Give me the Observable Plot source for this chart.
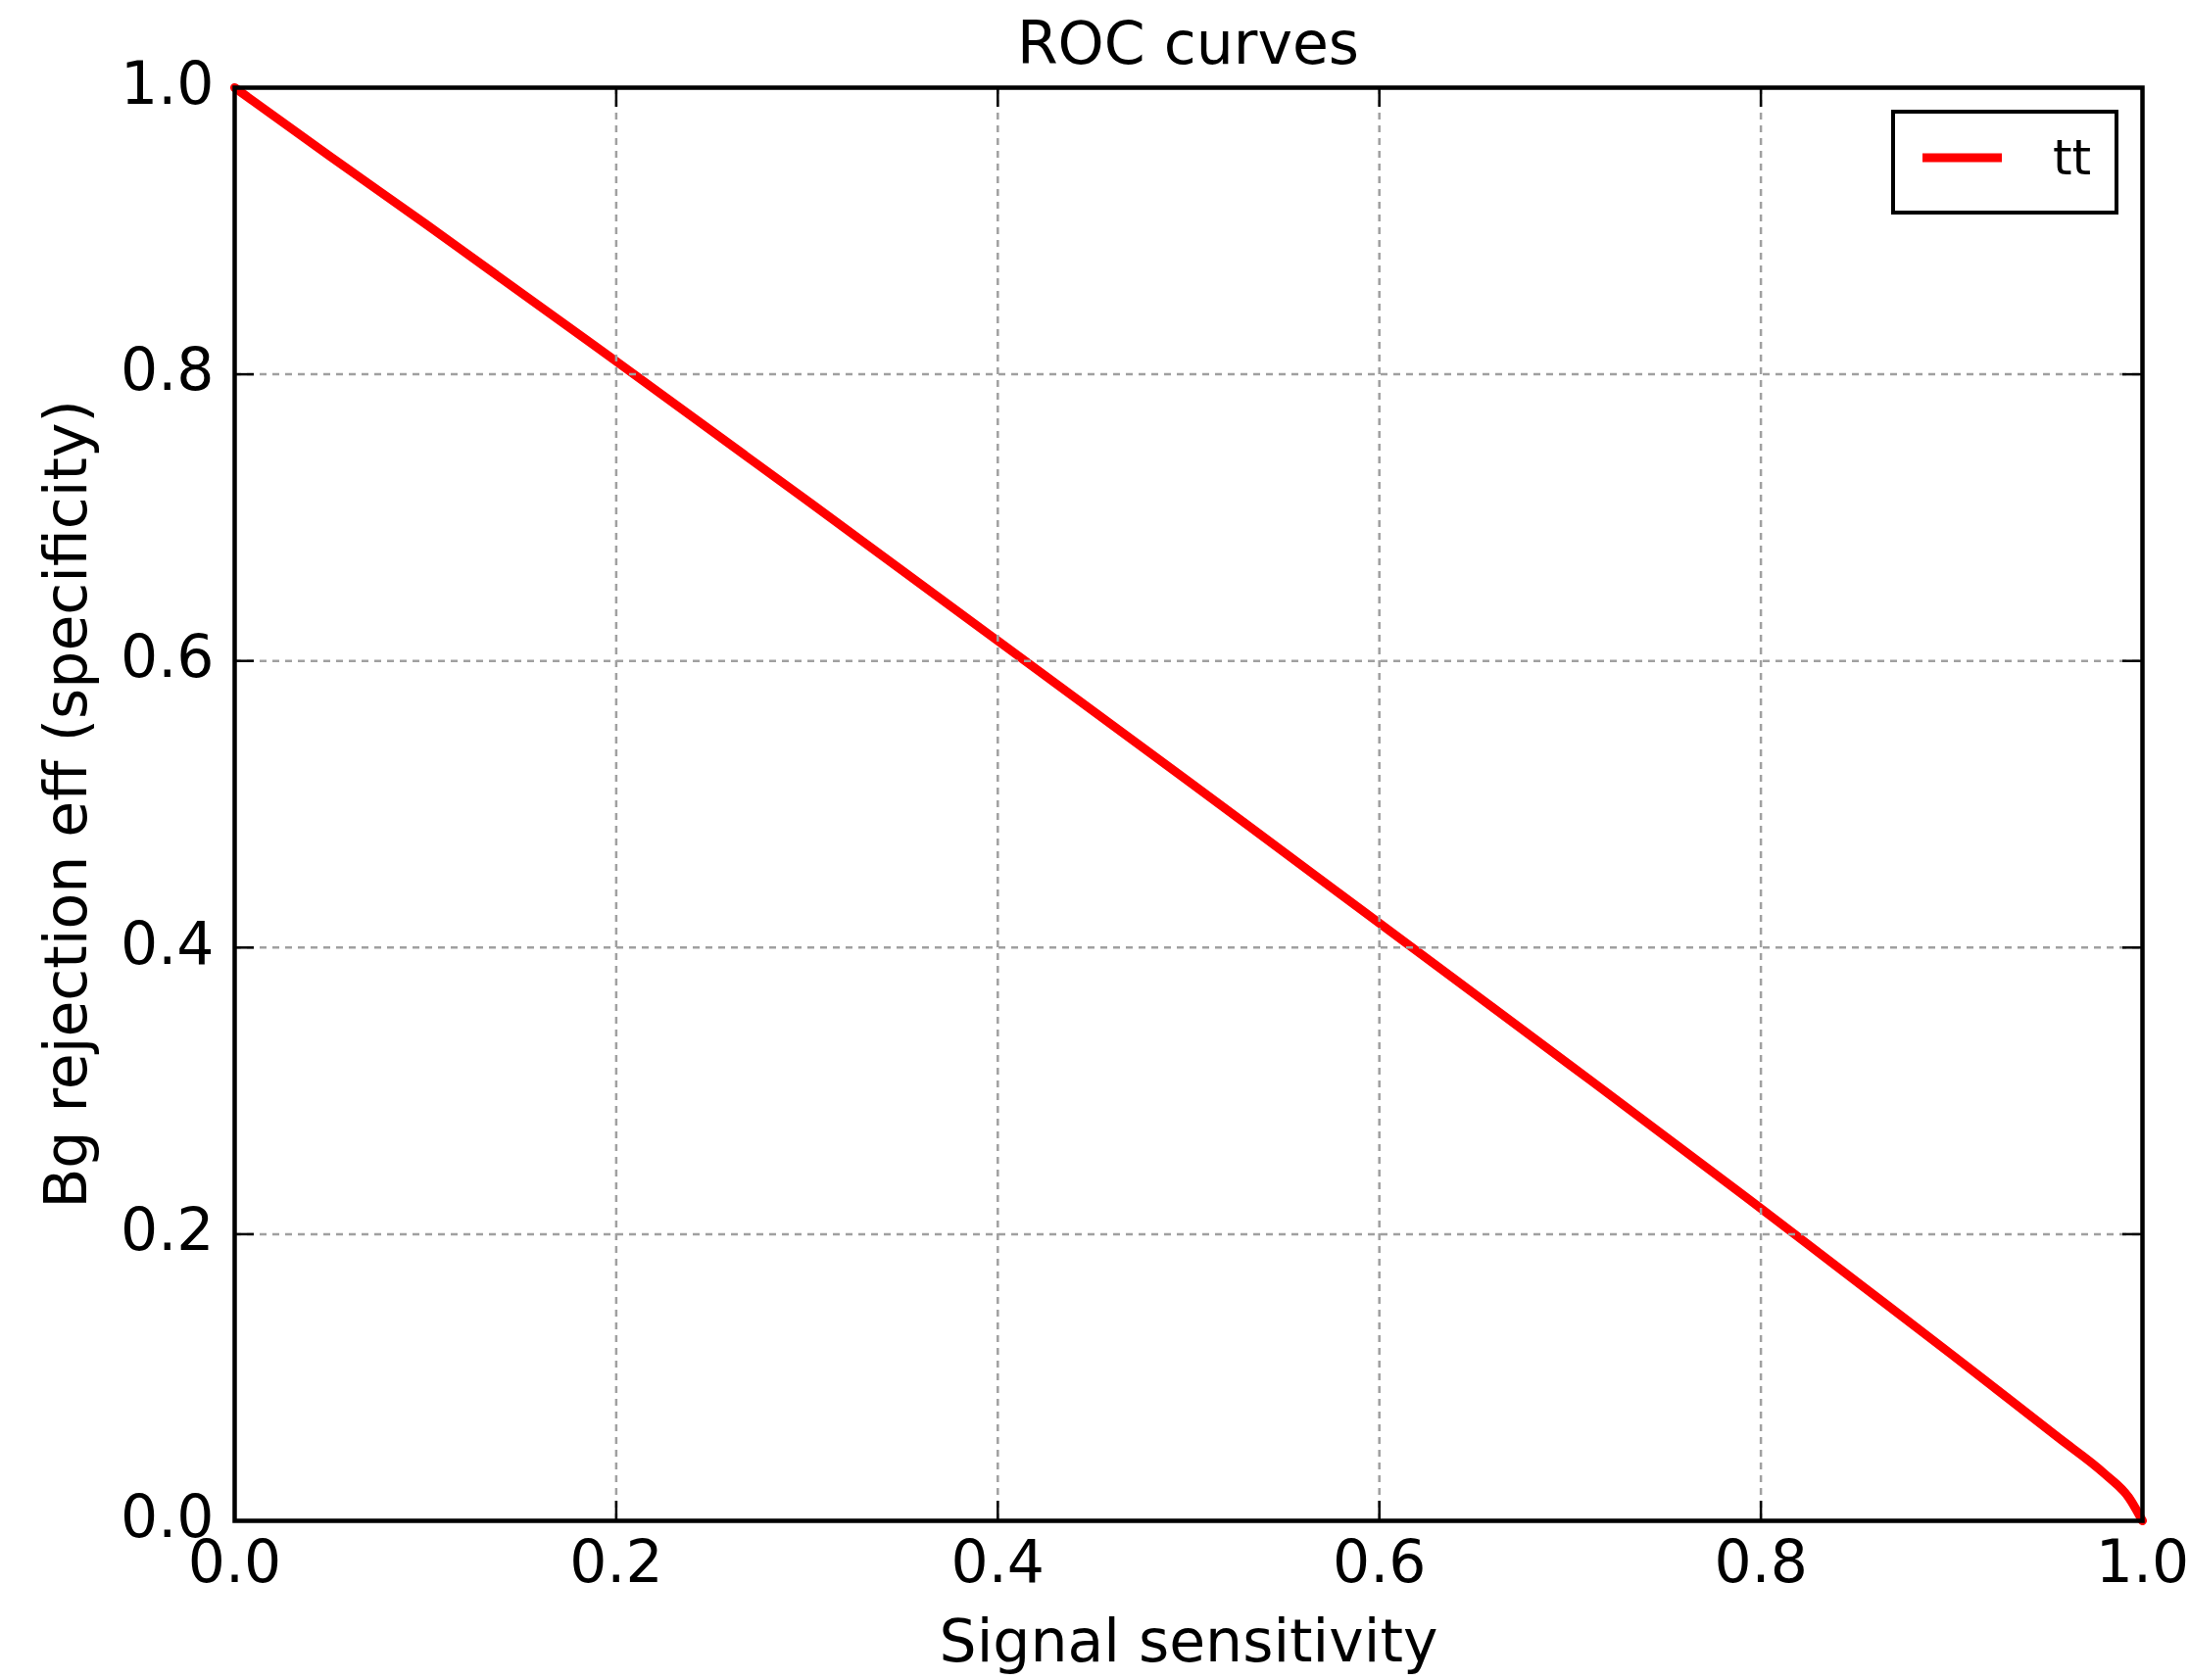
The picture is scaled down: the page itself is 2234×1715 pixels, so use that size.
<!DOCTYPE html>
<html>
<head>
<meta charset="utf-8">
<script src="https://cdn.jsdelivr.net/npm/d3@7"></script>
<script src="https://cdn.jsdelivr.net/npm/@observablehq/plot@0.6"></script>
<style>
  html, body { margin: 0; padding: 0; background: #fff; }
  #wrap { position: relative; width: 2234px; height: 1715px; font-family: "DejaVu Sans", sans-serif; }
  #title { position: absolute; top: 0; left: 239px; width: 1947px; text-align: center; font-size: 60px; line-height: 60px; padding-top: 14px; color: #000; }
  #legend { position: absolute; left: 1930px; top: 112px; }
</style>
</head>
<body>
<div id="wrap">
  <div id="chart"></div>
  <div id="title">ROC curves</div>
  <svg id="legend" width="234" height="108"></svg>
</div>
<script>
// ---- data ----
const seriesName = "tt";
const sensitivity = [0, 0.05, 0.1, 0.2, 0.3, 0.4, 0.5, 0.6, 0.7, 0.8, 0.853, 0.9, 0.93, 0.956, 0.98, 0.993, 1];
const specificity = [1, 0.952, 0.905, 0.809, 0.712, 0.614, 0.516, 0.417, 0.318, 0.218, 0.164, 0.116, 0.085, 0.058, 0.033, 0.016, 0];
const tickValues = [0, 0.2, 0.4, 0.6, 0.8, 1.0];
const xLabel = "Signal sensitivity";
const yLabel = "Bg rejection eff (specificity)";

const data = sensitivity.map((s, i) => ({x: s, y: specificity[i]}));

const W = 2234, H = 1715;
const mL = 239, mR = W - 2186, mT = 89, mB = H - 1552;
const fw = W - mL - mR, fh = H - mT - mB;
const tickLen = 20;
const gridStyle = {stroke: "#a0a0a0", strokeWidth: 2.5, strokeDasharray: "7,6"};

const chart = Plot.plot({
  width: W,
  height: H,
  marginLeft: mL,
  marginRight: mR,
  marginTop: mT,
  marginBottom: mB,
  style: {fontFamily: "DejaVu Sans, sans-serif", fontSize: "60px", color: "#000", background: "#fff"},
  x: {domain: [0, 1]},
  y: {domain: [0, 1]},
  marks: [
    Plot.line(data, {x: "x", y: "y", stroke: "#ff0000", strokeWidth: 9, curve: "monotone-x"}),
    // grid
    Plot.ruleX(tickValues.slice(1, -1), {x: d => d, ...gridStyle}),
    Plot.ruleY(tickValues.slice(1, -1), {y: d => d, ...gridStyle}),
    // inward ticks on all four sides
    Plot.ruleX(tickValues, {x: d => d, insetTop: fh - tickLen, stroke: "#000", strokeWidth: 2.5}),
    Plot.ruleX(tickValues, {x: d => d, insetBottom: fh - tickLen, stroke: "#000", strokeWidth: 2.5}),
    Plot.ruleY(tickValues, {y: d => d, insetRight: fw - tickLen, stroke: "#000", strokeWidth: 2.5}),
    Plot.ruleY(tickValues, {y: d => d, insetLeft: fw - tickLen, stroke: "#000", strokeWidth: 2.5}),
    Plot.frame({stroke: "#000", strokeWidth: 4.5}),
    Plot.axisX({ticks: tickValues, tickSize: 0, tickPadding: 20, tickFormat: d3.format(".1f"), label: null, fill: "#000"}),
    Plot.axisY({ticks: tickValues, tickSize: 0, tickPadding: 21, tickFormat: d3.format(".1f"), label: null, dy: -3, fill: "#000"}),
    Plot.text([xLabel], {text: d => d, frameAnchor: "bottom", textAnchor: "middle", lineAnchor: "top", dy: 101, fill: "#000"}),
    Plot.text([yLabel], {text: d => d, frameAnchor: "left", textAnchor: "middle", rotate: -90, lineAnchor: "top", dx: -194, fill: "#000"})
  ]
});
document.getElementById("chart").appendChild(chart);

// legend
const lg = d3.select("#legend");
lg.append("rect").attr("x", 2).attr("y", 2).attr("width", 228).attr("height", 103)
  .attr("fill", "#fff").attr("stroke", "#000").attr("stroke-width", 4);
lg.append("line").attr("x1", 32).attr("x2", 113).attr("y1", 49).attr("y2", 49)
  .attr("stroke", "#ff0000").attr("stroke-width", 9);
lg.append("text").attr("x", 165).attr("y", 66).attr("font-size", 50)
  .attr("font-family", "DejaVu Sans, sans-serif").attr("fill", "#000").text(seriesName);
</script>
</body>
</html>
